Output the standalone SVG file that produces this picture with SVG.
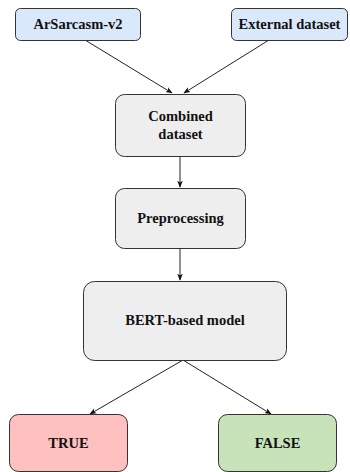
<svg xmlns="http://www.w3.org/2000/svg" width="350" height="472" viewBox="0 0 350 472">
<defs>
<style>
.box{stroke:#333;stroke-width:1}
.blue{fill:#dae8fc}
.gray{fill:#eeeeee}
.red{fill:#ffc0c0}
.green{fill:#c8e3b9}
.t{font-family:'Liberation Serif','DejaVu Serif',serif;font-weight:bold;font-size:14.5px;fill:#111;text-anchor:middle}
.edge{stroke:#222;stroke-width:1;fill:none;marker-end:url(#ah)}
</style>
<marker id="ah" viewBox="0 0 10 10" refX="9" refY="5" markerWidth="7" markerHeight="7" orient="auto" markerUnits="userSpaceOnUse">
<path d="M0,1 L10,5 L0,9 L2.5,5 Z" fill="#111"/>
</marker>
</defs>
<rect width="350" height="472" fill="#fff"/>
<g id="edges">
<line class="edge" x1="85" y1="40" x2="172" y2="93"/>
<line class="edge" x1="269" y1="40" x2="184" y2="93"/>
<line class="edge" x1="180" y1="156" x2="180" y2="187"/>
<line class="edge" x1="180" y1="248" x2="180" y2="280"/>
<line class="edge" x1="183" y1="360" x2="90" y2="414"/>
<line class="edge" x1="183" y1="360" x2="271" y2="414"/>
</g>
<g font-family="Liberation Serif, DejaVu Serif, serif">
<g id="arsarcasm">
<rect class="box blue" x="15.5" y="8.5" width="125" height="32" rx="5"/>
<text class="t" x="78" y="29">ArSarcasm-v2</text>
</g>
<g id="external">
<rect class="box blue" x="231.5" y="8.5" width="116" height="32" rx="5"/>
<text class="t" x="289.5" y="29">External dataset</text>
</g>
<g id="combined">
<rect class="box gray" x="115.5" y="94.5" width="130" height="62" rx="9"/>
<text class="t" x="180.5" y="121">Combined</text>
<text class="t" x="180.5" y="139">dataset</text>
</g>
<g id="preprocessing">
<rect class="box gray" x="115.5" y="188.5" width="130" height="60" rx="9"/>
<text class="t" x="180.5" y="223">Preprocessing</text>
</g>
<g id="bert">
<rect class="box gray" x="83.5" y="281.5" width="203" height="79" rx="11"/>
<text class="t" x="185" y="325">BERT-based model</text>
</g>
<g id="true">
<rect class="box red" x="9.5" y="414.5" width="118" height="57" rx="9"/>
<text class="t" x="68.5" y="448">TRUE</text>
</g>
<g id="false">
<rect class="box green" x="218.5" y="414.5" width="118" height="57" rx="9"/>
<text class="t" x="277.5" y="448">FALSE</text>
</g>
</g>
</svg>
